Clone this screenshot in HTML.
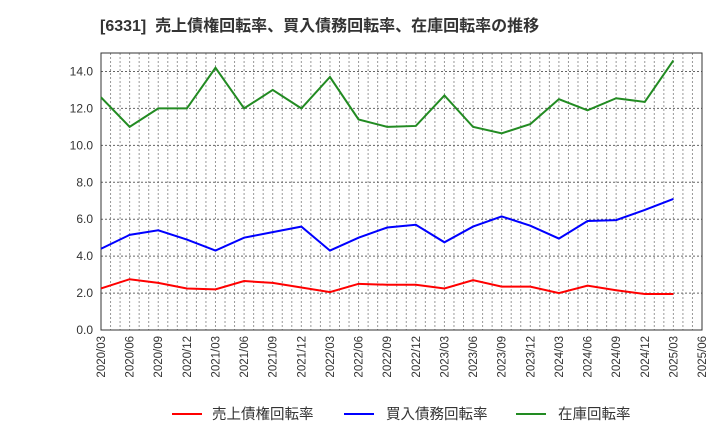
<!DOCTYPE html>
<html><head><meta charset="utf-8"><style>
body{margin:0;background:#fff;font-family:"Liberation Sans","Noto Sans CJK JP",sans-serif;}
</style></head><body>
<svg id="c" width="720" height="440" xmlns="http://www.w3.org/2000/svg" font-family="Liberation Sans, Noto Sans CJK JP, sans-serif">
<text x="100" y="31" font-size="16" font-weight="bold" fill="#333" xml:space="preserve">[6331]  売上債権回転率、買入債務回転率、在庫回転率の推移</text>
<g id="grid"></g><g id="axes"></g><g id="series"></g>
<g>
<line x1="172" y1="414" x2="202" y2="414" stroke="#ff0000" stroke-width="2"/><text x="212" y="419" font-size="14.5" fill="#333">売上債権回転率</text>
<line x1="344" y1="414" x2="374" y2="414" stroke="#0000ff" stroke-width="2"/><text x="386" y="419" font-size="14.5" fill="#333">買入債務回転率</text>
<line x1="516" y1="414" x2="546" y2="414" stroke="#228b22" stroke-width="2"/><text x="558" y="419" font-size="14.5" fill="#333">在庫回転率</text>
</g>
</svg>
<script>
const categories=["2020/03","2020/06","2020/09","2020/12","2021/03","2021/06","2021/09","2021/12","2022/03","2022/06","2022/09","2022/12","2023/03","2023/06","2023/09","2023/12","2024/03","2024/06","2024/09","2024/12","2025/03","2025/06"];
const inventory=[12.6,11.0,12.0,12.0,14.2,12.0,13.0,12.0,13.7,11.4,11.0,11.05,12.7,11.0,10.65,11.15,12.5,11.9,12.55,12.35,14.6];
const payables=[4.4,5.15,5.4,4.9,4.3,5.0,5.3,5.6,4.3,5.0,5.55,5.7,4.75,5.6,6.15,5.65,4.95,5.9,5.95,6.5,7.1];
const receivables=[2.25,2.75,2.55,2.25,2.2,2.65,2.55,2.3,2.05,2.5,2.45,2.45,2.25,2.7,2.35,2.35,2.0,2.4,2.15,1.95,1.95];
const yTicks=[0,2,4,6,8,10,12,14];
const L=101,R=702,T=53,B=330,YMAX=15;
const ns="http://www.w3.org/2000/svg";
const x=i=>L+(R-L)*i/(categories.length-1);
const y=v=>B-(B-T)*v/YMAX;
function mk(p,tag,a){const e=document.createElementNS(ns,tag);for(const k in a)e.setAttribute(k,a[k]);p.appendChild(e);return e;}
const g=document.getElementById('grid'),ax=document.getElementById('axes'),s=document.getElementById('series');
for(let m=1;m<(categories.length-1)*3;m++){const xx=L+(R-L)*m/((categories.length-1)*3);
const l=mk(g,'line',{x1:xx,x2:xx,y1:T,y2:B,stroke:'#999','stroke-dasharray':'2,2','stroke-width':1});

}
yTicks.forEach(v=>{if(v>0){const l=mk(g,'line',{x1:L,x2:R,y1:y(v),y2:y(v),stroke:'#666','stroke-dasharray':'2,2'});

}
const t=mk(ax,'text',{x:L-8,y:y(v)+4,'text-anchor':'end','font-size':12,fill:'#333'});t.textContent=v.toFixed(1);

});
categories.forEach((c,i)=>{const t=mk(ax,'text',{transform:`translate(${x(i)+4},${B+6}) rotate(-90)`,'text-anchor':'end','font-size':11.5,fill:'#333'});t.textContent=c;

});
const fr=mk(ax,'rect',{x:L,y:T,width:R-L,height:B-T,fill:'none',stroke:'#333'});


[[receivables,'#ff0000','receivables-line'],[payables,'#0000ff','payables-line'],[inventory,'#228b22','inventory-line']].forEach(([d,c,n])=>{
const p=mk(s,'polyline',{points:d.map((v,i)=>x(i)+','+y(v)).join(' '),fill:'none',stroke:c,'stroke-width':2});

});
</script>
</body></html>
